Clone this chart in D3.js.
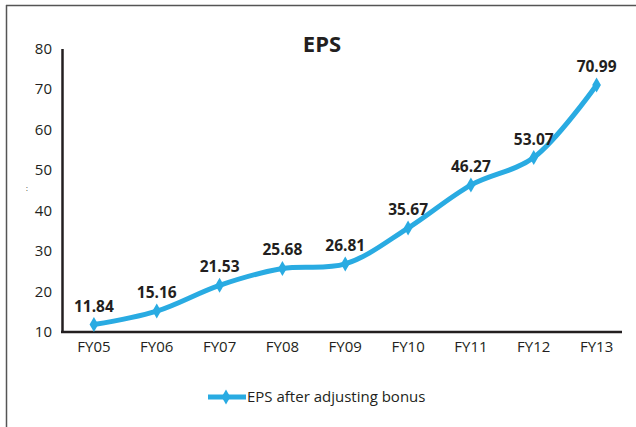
<!DOCTYPE html>
<html>
<head>
<meta charset="utf-8">
<script src="https://cdn.jsdelivr.net/npm/d3@7"></script>
<style>
  body { margin: 0; background: #fff; }
  svg { display: block; }
  text { font-family: "Open Sans", "Liberation Sans", sans-serif; fill: #231f20; }
</style>
</head>
<body>
<svg id="chart" width="636" height="427"></svg>
<script>
const years = ['FY05','FY06','FY07','FY08','FY09','FY10','FY11','FY12','FY13'];
const eps = [11.84, 15.16, 21.53, 25.68, 26.81, 35.67, 46.27, 53.07, 70.99];
const yTicks = [10, 20, 30, 40, 50, 60, 70, 80];
const seriesName = 'EPS after adjusting bonus';

const svg = d3.select('#chart');
const blue = '#29abe2';

// frame (top + left edges only)
svg.append('line').attr('x1', 6).attr('x2', 636).attr('y1', 5.5).attr('y2', 5.5)
  .attr('stroke', '#555').attr('stroke-width', 1.5);
svg.append('line').attr('x1', 6.5).attr('x2', 6.5).attr('y1', 5).attr('y2', 427)
  .attr('stroke', '#555').attr('stroke-width', 1.5);

const x = d3.scaleBand().domain(years).range([62.5, 628]);
const y = d3.scaleLinear().domain([10, 80]).range([332, 48.5]);

// axes
const yAxis = svg.append('g').attr('transform', 'translate(62,0)')
  .call(d3.axisLeft(y).tickValues(yTicks).tickSize(0).tickPadding(10));
yAxis.select('.domain').attr('stroke', '#231f20').attr('stroke-width', 2.5);
yAxis.selectAll('text').style('font-size', '15px').attr('fill', '#231f20');

const xAxis = svg.append('g').attr('transform', 'translate(0,332)')
  .call(d3.axisBottom(x).tickSize(0).tickPadding(9));
xAxis.select('.domain').attr('d', 'M61,0H622').attr('stroke', '#231f20').attr('stroke-width', 2.5);
xAxis.selectAll('text').style('font-size', '15px').attr('fill', '#231f20');

const cx = d => x(d) + x.bandwidth() / 2;

// series line
const line = d3.line()
  .x((d, i) => cx(years[i]))
  .y(d => y(d))
  .curve(d3.curveCatmullRom.alpha(0.5));

svg.append('path').datum(eps)
  .attr('d', line)
  .attr('fill', 'none')
  .attr('stroke', blue)
  .attr('stroke-width', 5)
  .attr('stroke-linejoin', 'round');

const diamond = d3.symbol().type(d3.symbolDiamond).size(65);
svg.selectAll('.pt').data(eps).enter().append('path')
  .attr('class', 'pt')
  .attr('d', diamond)
  .attr('transform', (d, i) => `translate(${cx(years[i])},${y(d)})`)
  .attr('fill', blue);

// data labels
svg.selectAll('.lbl').data(eps).enter().append('text')
  .attr('class', 'lbl')
  .attr('x', (d, i) => cx(years[i]))
  .attr('y', d => y(d) - 13)
  .attr('text-anchor', 'middle')
  .style('font-size', '15.5px')
  .style('font-weight', 'bold')
  .text(d => d.toFixed(2));

// title
svg.append('text').attr('x', 322).attr('y', 52).attr('text-anchor', 'middle')
  .style('font-size', '22px').style('font-weight', 'bold').text('EPS');

// stray mark on the left
svg.append('text').attr('x', 26).attr('y', 191).style('font-size', '7px').text(':');

// legend
const lg = svg.append('g').attr('transform', 'translate(208,397)');
lg.append('line').attr('x1', 0).attr('x2', 38).attr('y1', 0).attr('y2', 0)
  .attr('stroke', blue).attr('stroke-width', 5);
lg.append('path').attr('d', diamond).attr('transform', 'translate(18,0)').attr('fill', blue);
lg.append('text').attr('x', 39).attr('y', 5).style('font-size', '15px').text(seriesName);
</script>
</body>
</html>
